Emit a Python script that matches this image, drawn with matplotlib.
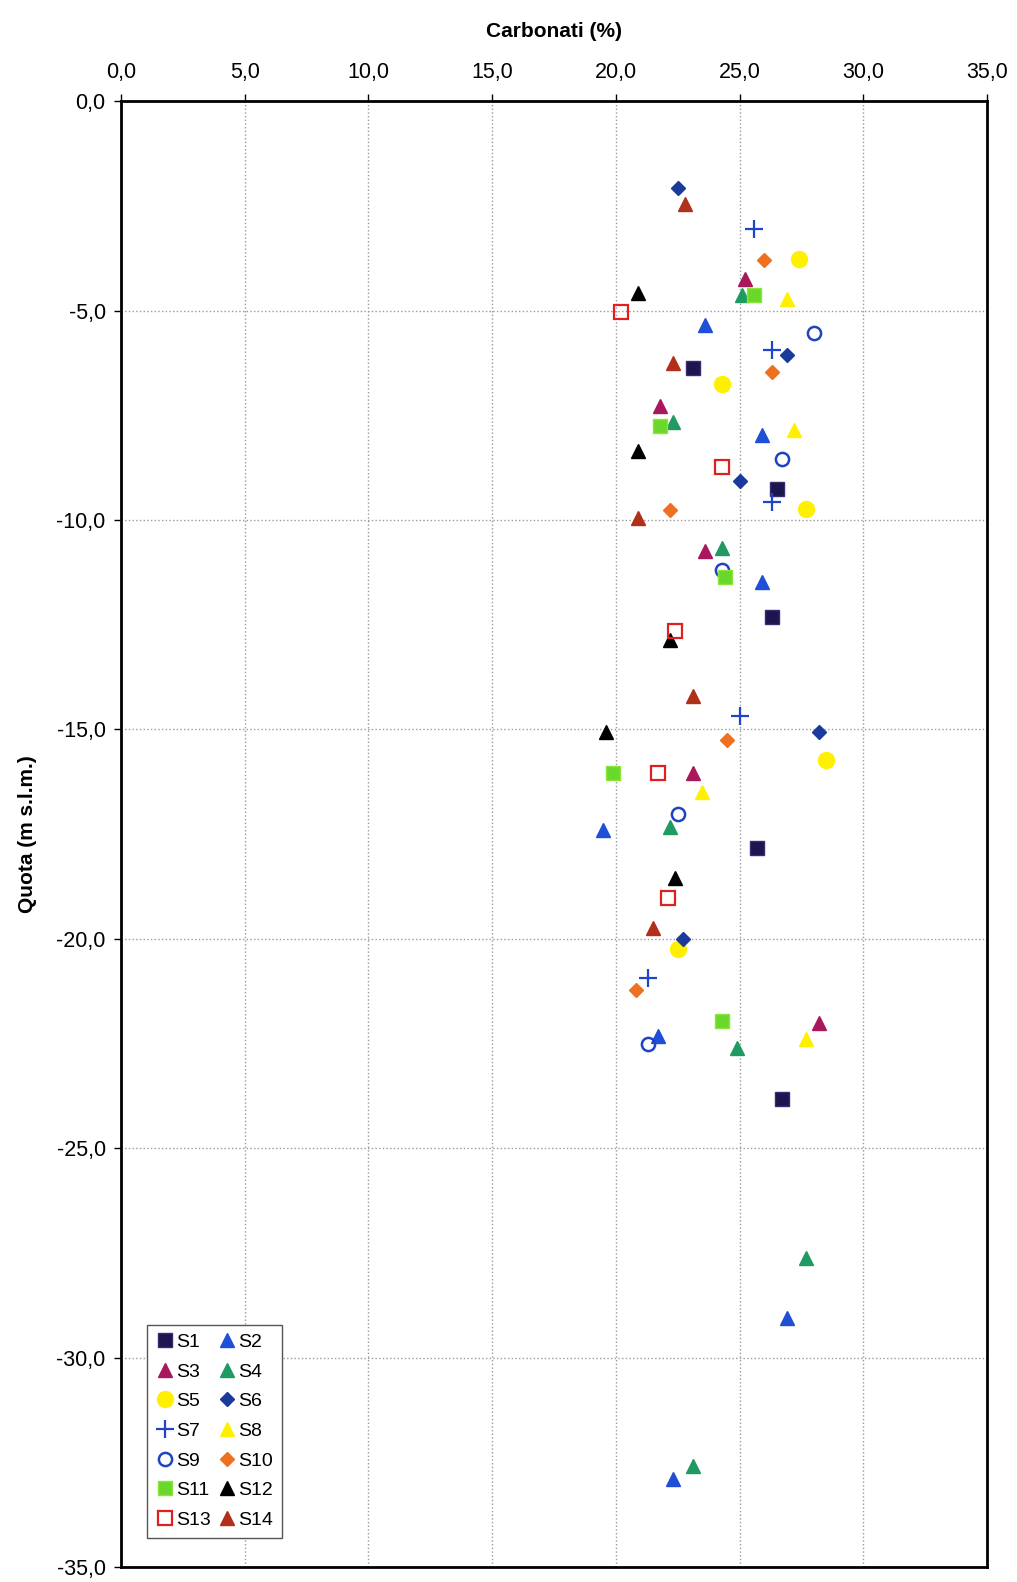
import matplotlib
matplotlib.use("Agg")
import matplotlib.pyplot as plt
from matplotlib.ticker import FuncFormatter, MultipleLocator

plt.rcParams['font.family'] = ['Liberation Sans', 'DejaVu Sans']

# carbonate content (%) and elevation (m s.l.m.) for each borehole
s1_x = [23.1, 26.5, 26.3, 25.7, 26.7]
s1_y = [-6.36, -9.25, -12.31, -17.83, -23.83]
s2_x = [23.6, 25.9, 25.9, 19.5, 21.7, 26.9, 22.3]
s2_y = [-5.35, -7.97, -11.47, -17.4, -22.33, -29.05, -32.9]
s3_x = [25.2, 21.8, 23.6, 23.1, 28.2]
s3_y = [-4.24, -7.28, -10.74, -16.04, -22.0]
s4_x = [25.1, 22.3, 24.3, 22.2, 24.9, 27.7, 23.1]
s4_y = [-4.63, -7.66, -10.67, -17.32, -22.6, -27.63, -32.6]
s5_x = [27.4, 24.3, 27.7, 28.5, 22.5]
s5_y = [-3.76, -6.75, -9.73, -15.73, -20.24]
s6_x = [22.5, 26.9, 25.0, 28.2, 22.7]
s6_y = [-2.07, -6.07, -9.06, -15.06, -20.0]
s7_x = [25.6, 26.3, 26.3, 25.0, 21.3]
s7_y = [-3.06, -5.95, -9.56, -14.67, -20.93]
s8_x = [26.9, 27.2, 23.5, 27.7]
s8_y = [-4.72, -7.85, -16.5, -22.4]
s9_x = [28.0, 26.7, 24.3, 22.5, 21.3]
s9_y = [-5.54, -8.55, -11.2, -17.03, -22.52]
s10_x = [26.0, 26.3, 22.2, 24.5, 20.8]
s10_y = [-3.8, -6.46, -9.76, -15.25, -21.22]
s11_x = [25.6, 21.8, 24.4, 19.9, 24.3]
s11_y = [-4.63, -7.76, -11.35, -16.04, -21.97]
s12_x = [20.9, 20.9, 22.2, 19.6, 22.4]
s12_y = [-4.58, -8.36, -12.86, -15.06, -18.55]
s13_x = [20.2, 24.3, 22.4, 21.7, 22.1]
s13_y = [-5.03, -8.74, -12.65, -16.04, -19.03]
s14_x = [22.8, 22.3, 20.9, 23.1, 21.5]
s14_y = [-2.46, -6.26, -9.95, -14.2, -19.75]

labels = ['S1', 'S2', 'S3', 'S4', 'S5', 'S6', 'S7',
          'S8', 'S9', 'S10', 'S11', 'S12', 'S13', 'S14']
xs = [s1_x, s2_x, s3_x, s4_x, s5_x, s6_x, s7_x,
      s8_x, s9_x, s10_x, s11_x, s12_x, s13_x, s14_x]
ys = [s1_y, s2_y, s3_y, s4_y, s5_y, s6_y, s7_y,
      s8_y, s9_y, s10_y, s11_y, s12_y, s13_y, s14_y]

styles = [
    dict(marker='s', ms=9.5, mfc='#1c1550', mec='#3a2a70'),
    dict(marker='^', ms=10, mfc='#1f4fd6', mec='#1f4fd6'),
    dict(marker='^', ms=10, mfc='#a8185c', mec='#a8185c'),
    dict(marker='^', ms=10, mfc='#1f9a62', mec='#1f9a62'),
    dict(marker='o', ms=11.5, mfc='#fff000', mec='#fff000'),
    dict(marker='D', ms=7.2, mfc='#1a3a9c', mec='#1a3a9c'),
    dict(marker='+', ms=13, mew=1.6, color='#1f44cc'),
    dict(marker='^', ms=10, mfc='#fff000', mec='#fff000'),
    dict(marker='o', ms=9.5, mfc='none', mec='#1f44c0', mew=1.8),
    dict(marker='D', ms=7.2, mfc='#f07022', mec='#f07022'),
    dict(marker='s', ms=10, mfc='#6ad82a', mec='#8ae63a'),
    dict(marker='^', ms=10, mfc='#000000', mec='#000000'),
    dict(marker='s', ms=10, mfc='none', mec='#e02020', mew=1.6),
    dict(marker='^', ms=10, mfc='#b0301a', mec='#b0301a'),
]

fig = plt.figure(figsize=(10.17, 15.82), dpi=100)
ax = fig.add_axes([0.119, 0.0095, 0.8515, 0.9265])

handles = []
for x, y, lab, st in zip(xs, ys, labels, styles):
    h, = ax.plot(x, y, linestyle='none', label=lab, **st)
    handles.append(h)

ax.set_xlim(0, 35)
ax.set_ylim(-35, 0)
ax.xaxis.set_major_locator(MultipleLocator(5))
ax.yaxis.set_major_locator(MultipleLocator(5))
fmt = FuncFormatter(lambda v, p: f"{v:.1f}".replace('.', ','))
ax.xaxis.set_major_formatter(fmt)
ax.yaxis.set_major_formatter(fmt)
ax.xaxis.tick_top()
ax.xaxis.set_label_position('top')
ax.tick_params(axis='both', labelsize=15.5, length=5, width=1, direction='out')
ax.tick_params(axis='x', pad=8)
ax.tick_params(axis='y', pad=6)

ax.grid(True, color='#999999', linestyle=':', linewidth=1)
ax.set_axisbelow(True)
for sp in ax.spines.values():
    sp.set_linewidth(2)

ax.set_xlabel('Carbonati (%)', fontsize=15, fontweight='bold', labelpad=18)
ax.set_ylabel('Quota (m s.l.m.)', fontsize=15, fontweight='bold', labelpad=14)

# legend filled row by row: S1 S2 / S3 S4 / ...
order = list(range(0, 14, 2)) + list(range(1, 14, 2))
leg = ax.legend([handles[i] for i in order], [labels[i] for i in order],
                ncol=2, loc='lower left', bbox_to_anchor=(0.03, 0.02),
                borderaxespad=0, fontsize=14, frameon=True, fancybox=False,
                edgecolor='#555555', framealpha=1, handletextpad=0.05,
                columnspacing=0.35, labelspacing=0.62, borderpad=0.45,
                handlelength=1.0)
leg.get_frame().set_linewidth(1)

fig.savefig('out.png', dpi=100)
